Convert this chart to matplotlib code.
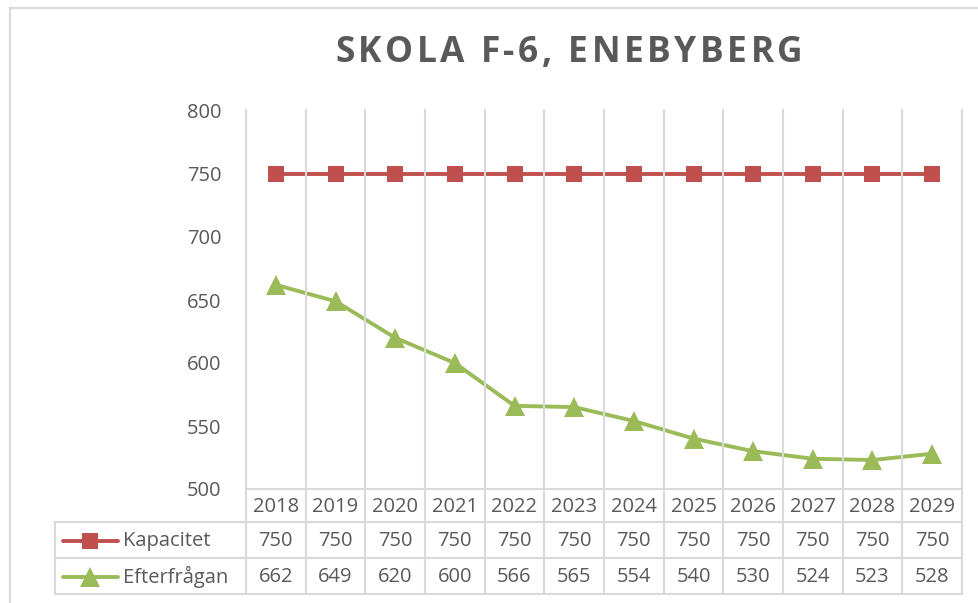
import matplotlib.pyplot as plt
from matplotlib.lines import Line2D

# data
years = ['2018', '2019', '2020', '2021', '2022', '2023',
         '2024', '2025', '2026', '2027', '2028', '2029']
kapacitet = [750, 750, 750, 750, 750, 750, 750, 750, 750, 750, 750, 750]
efterfragan = [662, 649, 620, 600, 566, 565, 554, 540, 530, 524, 523, 528]
series_names = ['Kapacitet', 'Efterfrågan']
title = 'SKOLA F-6, ENEBYBERG'

TXT = '#595959'
GRID = '#d9d9d9'
RED = '#c0504d'
GREEN = '#9bbb59'
FONT = 'Open Sans'
FS = 14.5

W, H = 979, 603
fig = plt.figure(figsize=(W / 100, H / 100), dpi=100)

# plot area in pixel terms
x0, x1 = 246, 962
y_top, y_bot = 111, 489
ax = fig.add_axes([x0 / W, 1 - y_bot / H, (x1 - x0) / W, (y_bot - y_top) / H])

xs = list(range(len(years)))
ax.plot(xs, kapacitet, color=RED, lw=2.8, marker='s', ms=12,
        markeredgewidth=0, zorder=3)
ax.plot(xs, efterfragan, color=GREEN, lw=2.8, marker='^', ms=14.5,
        markeredgewidth=0, zorder=3)

ax.set_xlim(-0.5, len(years) - 0.5)
ax.set_ylim(500, 800)
ax.set_yticks(range(500, 801, 50))
ax.set_xticks([])
for s in ax.spines.values():
    s.set_visible(False)
ax.tick_params(axis='y', length=0, pad=17.5, labelsize=FS, labelcolor=TXT)
for lab in ax.get_yticklabels():
    lab.set_fontfamily(FONT)

# vertical gridlines at category boundaries, running down through the table
row_h = [33, 36, 36]  # header, Kapacitet, Efterfrågan (px)
table_bot = y_bot + sum(row_h)
px = lambda y: 1 - y / H
for i in range(len(years) + 1):
    xf = (x0 + i * (x1 - x0) / len(years)) / W
    fig.add_artist(Line2D([xf, xf], [px(y_top - 1), px(table_bot)],
                          color=GRID, lw=1.5, zorder=1))

# table horizontal lines
leg_left = 55
rows_y = [y_bot, y_bot + row_h[0], y_bot + row_h[0] + row_h[1], table_bot]
fig.add_artist(Line2D([x0 / W, x1 / W], [px(rows_y[0])] * 2, color=GRID, lw=1.5))
for y in rows_y[1:]:
    fig.add_artist(Line2D([leg_left / W, x1 / W], [px(y)] * 2, color=GRID, lw=1.5))
fig.add_artist(Line2D([leg_left / W] * 2, [px(rows_y[1]), px(table_bot)],
                      color=GRID, lw=1.5))

# header row
cw = (x1 - x0) / len(years)
for i, yr in enumerate(years):
    fig.text((x0 + (i + 0.5) * cw) / W, px((rows_y[0] + rows_y[1]) / 2 + 1), yr,
             ha='center', va='center', fontsize=FS, color=TXT, family=FONT)

# data rows
for r, (name, vals, col, mk, ms) in enumerate([
        (series_names[0], kapacitet, RED, 's', 12),
        (series_names[1], efterfragan, GREEN, '^', 14.5)]):
    yc = px((rows_y[r + 1] + rows_y[r + 2]) / 2 + 1)
    fig.add_artist(Line2D([63 / W, 118 / W], [yc, yc], color=col, lw=2.8,
                          solid_capstyle='round'))
    fig.add_artist(Line2D([90.5 / W], [yc], color=col, marker=mk, ms=ms,
                          markeredgewidth=0))
    fig.text(123 / W, yc, name, ha='left', va='center', fontsize=FS,
             color=TXT, family=FONT)
    for i, v in enumerate(vals):
        fig.text((x0 + (i + 0.5) * cw) / W, yc, str(v), ha='center', va='center',
                 fontsize=FS, color=TXT, family=FONT)

# title, drawn letter by letter to get the wide tracking
renderer = fig.canvas.get_renderer()
t_left, t_right = 335, 803
chars = []
for ch in title:
    t = fig.text(0, px(53), ch, ha='left', va='center', fontsize=25.5,
                 fontweight='bold', color=TXT, family=FONT)
    chars.append((t, t.get_window_extent(renderer).width if ch != ' ' else 9))
total = sum(w for _, w in chars)
spacing = (t_right - t_left - total) / (len(chars) - 1)
xpos = t_left
for t, w in chars:
    t.set_x(xpos / W)
    xpos += w + spacing

# chart outer border
fig.add_artist(Line2D([9.5 / W, 9.5 / W], [0, px(7.5)], color=GRID, lw=1.5))
fig.add_artist(Line2D([9.5 / W, 1], [px(7.5), px(7.5)], color=GRID, lw=1.5))

fig.savefig('out.png', dpi=100)
